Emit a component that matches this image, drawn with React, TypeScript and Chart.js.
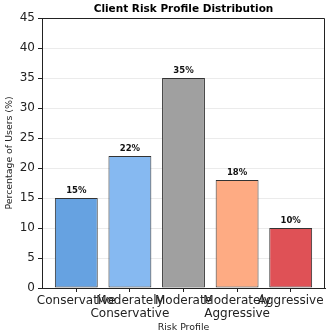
import React, { useEffect, useRef } from "react";
import { Chart, registerables } from "chart.js";

Chart.register(...registerables);

const categories = ["Conservative", "Moderately Conservative", "Moderate", "Moderately Aggressive", "Aggressive"];
const tickLabels: (string | string[])[] = [
  "Conservative",
  ["Moderately", "Conservative"],
  "Moderate",
  ["Moderately", "Aggressive"],
  "Aggressive",
];
const percentages = [15, 22, 35, 18, 10];
const barColors = ["#66a2e1", "#86b9f1", "#a0a0a0", "#feab83", "#df5156"];
const yTicks = [0, 5, 10, 15, 20, 25, 30, 35, 40, 45];

const FONT = "'DejaVu Sans', sans-serif";

// Draws the title, top/right frame lines, and value labels above bars
const decorations = {
  id: "decorations",
  afterDatasetsDraw(chart: any) {
    const { ctx, chartArea } = chart;
    ctx.save();
    ctx.strokeStyle = "#222";
    ctx.lineWidth = 1;
    ctx.beginPath();
    ctx.moveTo(chartArea.left, chartArea.top + 0.5);
    ctx.lineTo(chartArea.right - 0.5, chartArea.top + 0.5);
    ctx.lineTo(chartArea.right - 0.5, chartArea.bottom);
    ctx.stroke();

    const meta = chart.getDatasetMeta(0);
    ctx.fillStyle = "#111";
    ctx.font = `bold 8.5px ${FONT}`;
    ctx.textAlign = "center";
    ctx.textBaseline = "alphabetic";
    meta.data.forEach((bar: any, i: number) => {
      ctx.fillText(`${percentages[i]}%`, bar.x, bar.y - 5);
    });

    ctx.font = `bold 10.5px ${FONT}`;
    ctx.fillStyle = "#000";
    ctx.textBaseline = "middle";
    ctx.fillText("Client Risk Profile Distribution", (chartArea.left + chartArea.right) / 2, 9);
    ctx.restore();
  },
};

export default function App() {
  const canvasRef = useRef<HTMLCanvasElement | null>(null);

  useEffect(() => {
    document.body.style.margin = "0";
    const canvas = canvasRef.current;
    if (!canvas) return;
    const chart = new Chart(canvas, {
      type: "bar",
      data: {
        datasets: [
          {
            label: "Percentage of Users",
            data: percentages.map((v, i) => ({ x: i, y: v })),
            backgroundColor: barColors,
            borderColor: "#333",
            borderWidth: 1,
            borderSkipped: false,
            barPercentage: 0.8,
            categoryPercentage: 1,
          },
        ],
      },
      options: {
        responsive: false,
        animation: false,
        devicePixelRatio: 1,
        layout: { padding: { top: 18, right: 2, left: 0, bottom: 0 } },
        plugins: {
          legend: { display: false },
          title: { display: false },
          tooltip: { enabled: false },
        },
        scales: {
          x: {
            type: "linear",
            offset: false,
            min: -0.64,
            max: 4.64,
            afterBuildTicks: (scale: any) => {
              scale.ticks = categories.map((_, i) => ({ value: i }));
            },
            afterFit: (scale: any) => {
              scale.height = 46;
            },
            ticks: {
              autoSkip: false,
              maxRotation: 0,
              minRotation: 0,
              padding: 2,
              color: "#222",
              font: { family: FONT, size: 12, lineHeight: 1.08 },
              callback: (value: any) => tickLabels[value as number] ?? "",
            },
            grid: {
              offset: false,
              drawOnChartArea: false,
              drawTicks: true,
              tickLength: 4,
              tickColor: "#222",
            },
            border: { display: true, color: "#222", width: 1 },
            title: {
              display: true,
              text: "Risk Profile",
              color: "#222",
              font: { family: FONT, size: 9.4 },
              padding: { top: 0, bottom: 1 },
            },
          },
          y: {
            min: 0,
            max: 45,
            afterBuildTicks: (scale: any) => {
              scale.ticks = yTicks.map((v) => ({ value: v }));
            },
            afterFit: (scale: any) => {
              scale.width = 42;
            },
            ticks: {
              padding: 3,
              color: "#222",
              font: { family: FONT, size: 12 },
            },
            grid: {
              color: "#ebebeb",
              lineWidth: 1,
              drawTicks: true,
              tickLength: 4,
              tickColor: "#222",
            },
            border: { display: true, color: "#222", width: 1 },
            title: {
              display: true,
              text: "Percentage of Users (%)",
              color: "#222",
              font: { family: FONT, size: 9.4 },
              padding: { top: 4, bottom: 0 },
            },
          },
        },
      },
      plugins: [decorations],
    } as any);
    return () => chart.destroy();
  }, []);

  return (
    <div style={{ width: 327, height: 334, background: "#fff" }}>
      <canvas ref={canvasRef} width={327} height={334} />
    </div>
  );
}
